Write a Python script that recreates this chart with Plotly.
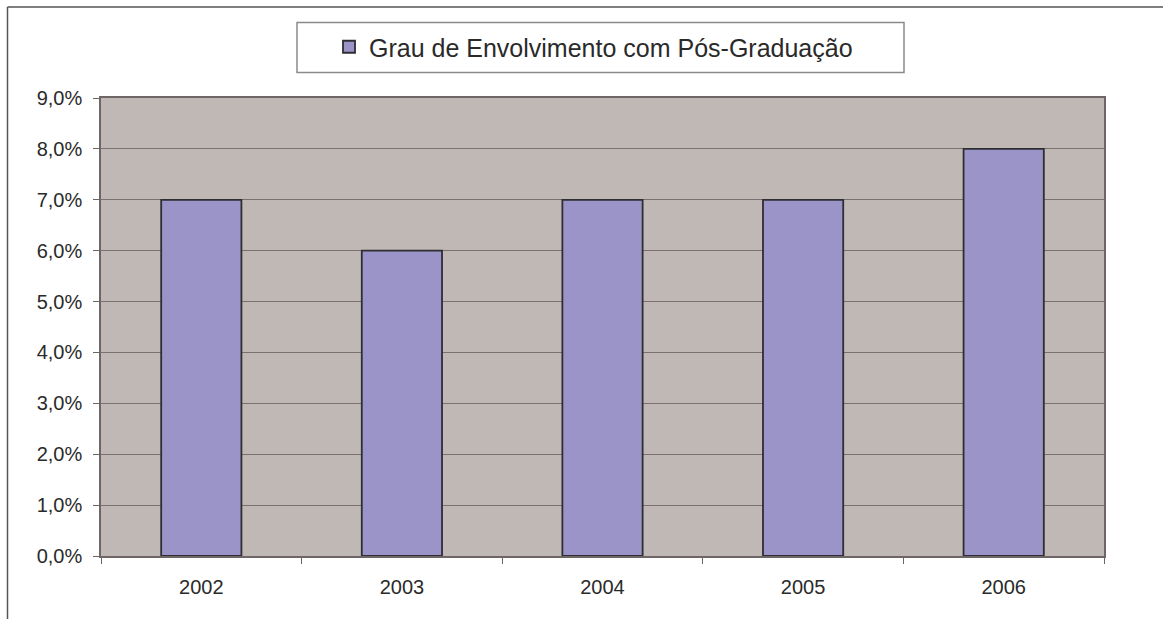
import plotly.graph_objects as go

categories = ["2002", "2003", "2004", "2005", "2006"]
values = [0.07, 0.06, 0.07, 0.07, 0.08]
series_name = "Grau de Envolvimento com Pós-Graduação"

W, H = 1163, 619
L, R, T, B = 101, 1104, 98, 556  # plot area in pixels

def px_x(p):
    return (p - L) / (R - L)

def px_y(p):
    return (B - p) / (B - T)

fig = go.Figure()
fig.add_trace(go.Bar(
    x=categories, y=values, name=series_name,
    marker=dict(color="#9A94C8", line=dict(color="#2e2e33", width=1.8)),
    showlegend=True,
))

font = "Liberation Sans, Arial, sans-serif"
fig.update_layout(
    width=W, height=H,
    margin=dict(l=L, r=W - R, t=T, b=H - B),
    paper_bgcolor="white",
    plot_bgcolor="#C0B8B5",
    separators=",.",
    bargap=0.6,
    font=dict(family=font, size=20, color="#2a2a2a"),
    showlegend=True,
    legend=dict(
        x=px_x(329), y=px_y(47), xanchor="left", yanchor="middle",
        orientation="h", bgcolor="rgba(0,0,0,0)", borderwidth=0,
        font=dict(size=25, color="#2a2a2a", family=font),
        itemwidth=30,
    ),
    xaxis=dict(
        type="category", tickson="boundaries", ticks="outside", ticklen=6,
        tickcolor="#6e6666", showline=True, linecolor="#6e6666", linewidth=1.5,
        mirror=True, showgrid=False, tickfont=dict(size=20),
        ticklabelstandoff=12,
    ),
    yaxis=dict(
        range=[0, 0.09], dtick=0.01, tickformat=".1%", ticks="outside",
        ticklen=6, tickcolor="#6e6666", showline=True, linecolor="#6e6666",
        linewidth=1.5, mirror=True, showgrid=True, gridcolor="#7a7070",
        gridwidth=1, zeroline=False, tickfont=dict(size=20),
        ticklabelstandoff=7,
    ),
    shapes=[
        # legend box
        dict(type="rect", xref="paper", yref="paper",
             x0=px_x(297), x1=px_x(904), y0=px_y(72.5), y1=px_y(22.5),
             line=dict(color="#8a8a8a", width=1.5), fillcolor="rgba(0,0,0,0)",
             layer="below"),
        # outer chart frame (top and left visible)
        dict(type="line", xref="paper", yref="paper",
             x0=px_x(7.5), x1=px_x(1170), y0=px_y(7), y1=px_y(7),
             line=dict(color="#555555", width=1.5)),
        dict(type="line", xref="paper", yref="paper",
             x0=px_x(7.5), x1=px_x(7.5), y0=px_y(7), y1=px_y(630),
             line=dict(color="#555555", width=1.5)),
    ],
)

fig.write_html(
    "out.html",
    config={"displayModeBar": False},
    post_script="document.body.style.margin='0px';document.body.style.overflow='hidden';",
)
